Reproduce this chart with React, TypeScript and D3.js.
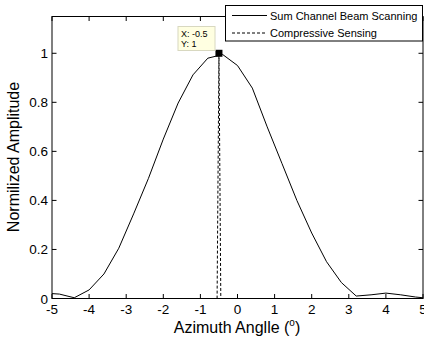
import React from "react";
import * as d3 from "d3";

const sumX = [-5, -4.8, -4.4, -4, -3.6, -3.2, -2.8, -2.4, -2, -1.6, -1.2, -0.8, -0.4, 0, 0.4, 0.8, 1.2, 1.6, 2, 2.4, 2.8, 3.2, 3.6, 4, 4.4, 4.8, 5];
const sumY = [0.02, 0.018, 0.003, 0.035, 0.1, 0.205, 0.345, 0.49, 0.65, 0.797, 0.912, 0.98, 0.995, 0.95, 0.858, 0.7, 0.55, 0.4, 0.267, 0.15, 0.065, 0.01, 0.015, 0.022, 0.015, 0.006, 0.003];
const csX = [-5, -0.55, -0.5, -0.45, 5];
const csY = [0, 0, 1, 0, 0];
const xTicks = [-5, -4, -3, -2, -1, 0, 1, 2, 3, 4, 5];
const yTicks = [0, 0.2, 0.4, 0.6, 0.8, 1];
const seriesNames = ["Sum Channel Beam Scanning", "Compressive Sensing"];
const tipX = -0.5;
const tipY = 1;

export default function App() {
  const W = 424, H = 340;
  const L = 52, R = 423, T = 16.5, B = 298.5;
  const x = d3.scaleLinear().domain([-5, 5]).range([L, R]);
  const y = d3.scaleLinear().domain([0, 1.15]).range([B, T]);
  const line = d3.line<[number, number]>().x(d => x(d[0])).y(d => y(d[1]));
  const sumPath = line(sumX.map((v, i) => [v, sumY[i]] as [number, number])) || "";
  const csPath = line(csX.map((v, i) => [v, csY[i]] as [number, number])) || "";
  const font = "Arial, 'Liberation Sans', Helvetica, sans-serif";
  const tl = 4.5;
  const mx = x(tipX), my = y(tipY);
  return (
    <svg width={W} height={H} style={{ position: "absolute", left: 0, top: 0, background: "#fff" }} fontFamily={font}>
      <rect x={0} y={0} width={W} height={H} fill="#fff" />
      <path d={sumPath} fill="none" stroke="#000" strokeWidth={1} />
      {/* axes box */}
      <rect x={L} y={T} width={R - L} height={B - T} fill="none" stroke="#000" strokeWidth={1} />
      <path d={csPath} fill="none" stroke="#000" strokeWidth={1} strokeDasharray="3,2" />
      {xTicks.map(t => (
        <g key={"x" + t}>
          <line x1={x(t)} x2={x(t)} y1={B} y2={B - tl} stroke="#000" />
          <line x1={x(t)} x2={x(t)} y1={T} y2={T + tl} stroke="#000" />
          <text x={x(t)} y={313.5} fontSize={13.5} textAnchor="middle" fill="#000">{t}</text>
        </g>
      ))}
      {yTicks.map(t => (
        <g key={"y" + t}>
          <line x1={L} x2={L + tl} y1={y(t)} y2={y(t)} stroke="#000" />
          <line x1={R} x2={R - tl} y1={y(t)} y2={y(t)} stroke="#000" />
          <text x={48} y={y(t) + 5} fontSize={13.5} textAnchor="end" fill="#000">{t}</text>
        </g>
      ))}
      <text x={237} y={333} fontSize={16} textAnchor="middle" fill="#000">
        Azimuth Anglle (<tspan fontSize={10} dy={-7}>o</tspan><tspan dy={7}>)</tspan>
      </text>
      <text transform={`translate(19,157) rotate(-90)`} fontSize={16} textAnchor="middle" fill="#000">Normilized Amplitude</text>
      {/* data tip */}
      <rect x={mx - 3.5} y={my - 3.5} width={7} height={7} fill="#000" />
      <rect x={178} y={26.5} width={37} height={24} fill="#ffffe1" stroke="#d8d8c0" strokeWidth={1} />
      <text x={181} y={37} fontSize={9} fill="#000">X: {tipX}</text>
      <text x={181} y={47} fontSize={9} fill="#000">Y: {tipY}</text>
      {/* legend */}
      <rect x={225.5} y={5.5} width={197} height={35.5} fill="#fff" stroke="#000" strokeWidth={1} />
      <line x1={232} x2={267} y1={15.5} y2={15.5} stroke="#000" />
      <line x1={232} x2={267} y1={33} y2={33} stroke="#000" strokeDasharray="3,2" />
      <text x={270} y={19.5} fontSize={11} fill="#000">{seriesNames[0]}</text>
      <text x={270} y={37} fontSize={11} fill="#000">{seriesNames[1]}</text>
    </svg>
  );
}
